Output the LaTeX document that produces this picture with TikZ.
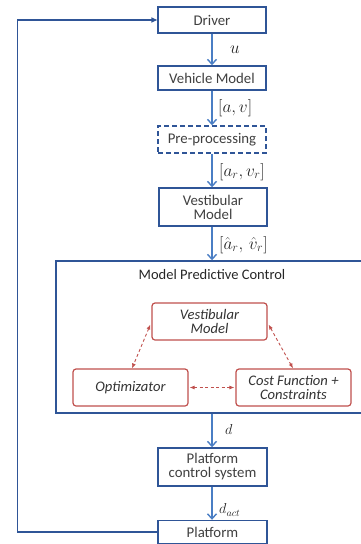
\documentclass[tikz,border=0pt]{standalone}
\usepackage{fontspec}
\setmainfont{Carlito}
\usetikzlibrary{arrows.meta}
\definecolor{boxblue}{HTML}{2F5597}
\definecolor{arrblue}{HTML}{4A7EC4}
\definecolor{redc}{HTML}{C0504D}
\definecolor{txt}{HTML}{404040}
\tikzset{
  bbox/.style={draw=boxblue, line width=1.4pt, fill=white, text=txt, align=center,
    minimum width=108pt, inner sep=0pt, font=\fontsize{14.8}{16}\selectfont},
  rbox/.style={draw=redc, line width=1.2pt, rounded corners=3pt, fill=white, text=black!80,
    align=center, minimum width=115pt, minimum height=37pt, inner sep=0pt,
    font=\fontsize{14.6}{16}\selectfont\itshape},
  flow/.style={draw=arrblue, line width=1.4pt, -{Straight Barb[length=5pt,width=9pt,line width=1.4pt]}},
  rflow/.style={draw=redc, line width=0.9pt, dashed, dash pattern=on 3pt off 2.5pt,
    {Latex[length=5pt,width=4pt]}-{Latex[length=5pt,width=4pt]}},
  lab/.style={text=black!85, font=\fontsize{17}{19}\selectfont, inner sep=0pt, anchor=west}
}
\begin{document}
\begin{tikzpicture}[x=1pt,y=-1pt]
\useasboundingbox (0,0) rectangle (361,544);
\node[bbox, minimum height=26pt] (driver) at (212,20) {Driver};
\node[bbox, minimum height=24pt] (veh) at (212,78) {Vehicle Model};
\node[bbox, minimum height=27pt, dashed, dash pattern=on 5pt off 3pt] (pre) at (212,139.5) {Pre-processing};
\node[bbox, minimum height=38pt] (vest) at (213,207) {Vestibular\\[-2pt]Model};
\node[draw=boxblue, line width=1.4pt, minimum width=306pt, minimum height=152pt, inner sep=0pt] (mpc) at (209,337) {};
\node[text=black!85, font=\fontsize{14.5}{16}\selectfont] (mpct) at (212,275) {Model Predictive Control};
\node[rbox] (rvest) at (209.5,321.5) {Vestibular\\[-2pt]Model};
\node[rbox] (opt) at (130.5,387.5) {Optimizator};
\node[rbox] (cost) at (293.5,387.5) {Cost Function +\\[-2pt]Constraints};
\node[bbox, minimum height=38pt, minimum width=109pt] (pcs) at (212.5,467) {Platform\\[-2pt]control system};
\node[bbox, minimum height=23pt, minimum width=109pt] (plat) at (212.5,532) {Platform};

\draw[flow] (driver.south) -- (veh.north);
\draw[flow] (veh.south) -- (pre.north);
\draw[flow] (pre.south) -- (pre.south |- vest.north);
\draw[flow] (vest.south -| pre.south) -- (pre.south |- mpc.north);
\draw[flow] (mpc.south -| pre.south) -- (pre.south |- pcs.north);
\draw[flow] (pcs.south -| pre.south) -- (pre.south |- plat.north);

\draw[rflow] ([xshift=-1pt,yshift=-3pt]rvest.west) -- ([xshift=1.5pt]opt.north);
\draw[rflow] ([xshift=1pt,yshift=-3pt]rvest.east) -- ([xshift=-0.5pt]cost.north);
\draw[rflow] ([xshift=1pt]opt.east) -- ([xshift=-1pt]cost.west);

\draw[draw=boxblue, line width=1.4pt, -{Triangle[length=6pt,width=5pt]}]
  (plat.west) -- ++(-140,0) |- (driver.west);

\node[lab] (lu) at (230,50) {$u$};
\node[lab] (lav) at (218,108) {$[a,v]$};
\node[lab] (larv) at (219,172) {$[a_r,v_r]$};
\node[lab] (lhat) at (219,245) {$[\hat a_r,\,\hat v_r]$};
\node[lab, font=\fontsize{14}{16}\selectfont] (ld) at (225,429) {$d$};
\node[lab, font=\fontsize{14}{16}\selectfont] (ldact) at (219,510) {$d_{act}$};
\end{tikzpicture}
\end{document}
